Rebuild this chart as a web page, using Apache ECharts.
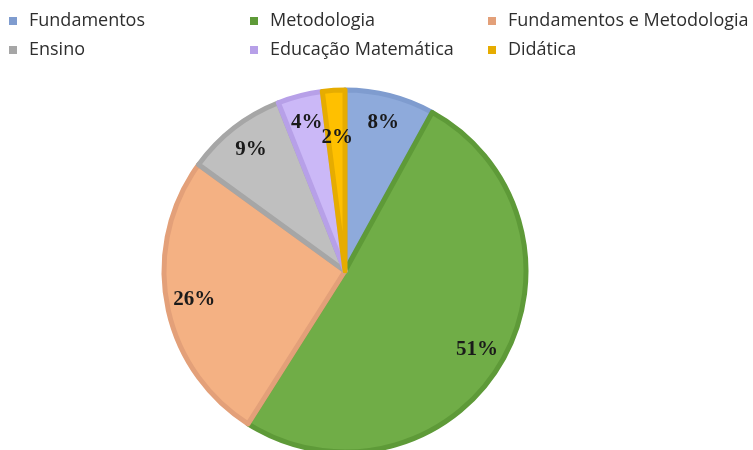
<!DOCTYPE html>
<html>
<head>
<meta charset="utf-8">
<script src="https://cdn.jsdelivr.net/npm/echarts@6/dist/echarts.min.js"></script>
<style>
  html, body { margin: 0; padding: 0; background: #fff; }
  #main { width: 753px; height: 450px; }
</style>
</head>
<body>
<div id="main"></div>
<script>
// dados do gráfico (sentido horário a partir do topo)
var categorias = ['Fundamentos', 'Metodologia', 'Fundamentos e Metodologia', 'Ensino', 'Educação Matemática', 'Didática'];
var percentuais = [8, 51, 26, 9, 4, 2];
var cores = ['#8eaadb', '#70ad47', '#f4b183', '#bfbfbf', '#cbb8f7', '#ffc000'];
var bordas = ['#7f9ccf', '#5e9a38', '#e3a079', '#a6a6a6', '#b7a0e8', '#e6ac00'];

var dados = categorias.map(function (nome, i) {
    return {
        name: nome,
        value: percentuais[i],
        itemStyle: { color: cores[i], borderColor: bordas[i] }
    };
});

function itemLegenda(i) {
    return { name: categorias[i], itemStyle: { color: bordas[i], borderWidth: 0 } };
}

var legendaBase = {
    orient: 'vertical',
    top: 5,
    itemGap: 7,
    itemWidth: 8,
    itemHeight: 8,
    icon: 'rect',
    itemStyle: { borderWidth: 0 },
    textStyle: { fontFamily: 'Open Sans', fontSize: 18, color: '#2e2e2e', lineHeight: 22, padding: [0, 0, 0, 7] }
};

var myChart = echarts.init(document.getElementById('main'));
myChart.setOption({
    animation: false,
    legend: [
        Object.assign({}, legendaBase, { left: 4, data: [itemLegenda(0), itemLegenda(3)] }),
        Object.assign({}, legendaBase, { left: 245, data: [itemLegenda(1), itemLegenda(4)] }),
        Object.assign({}, legendaBase, { left: 483, data: [itemLegenda(2), itemLegenda(5)] })
    ],
    series: [
        {
            type: 'pie',
            center: [345, 271],
            radius: 181,
            startAngle: 90,
            clockwise: true,
            label: { show: false },
            labelLine: { show: false },
            itemStyle: { borderWidth: 5 },
            emphasis: { disabled: true },
            data: dados
        },
        {
            // anel transparente só para posicionar os rótulos mais perto da borda
            type: 'pie',
            center: [345, 271],
            radius: [120, 181],
            startAngle: 90,
            clockwise: true,
            silent: true,
            avoidLabelOverlap: false,
            itemStyle: { color: 'rgba(0,0,0,0)', borderWidth: 0 },
            label: {
                show: true,
                position: 'inside',
                formatter: '{c}%',
                fontFamily: 'Liberation Serif',
                fontWeight: 'bold',
                fontSize: 21,
                color: '#1a1a1a'
            },
            labelLayout: { hideOverlap: false },
            labelLine: { show: false },
            emphasis: { disabled: true },
            data: categorias.map(function (nome, i) {
                var item = { name: nome, value: percentuais[i] };
                if (nome === 'Didática') item.label = { offset: [2, 20] };
                return item;
            })
        }
    ]
});
</script>
</body>
</html>
